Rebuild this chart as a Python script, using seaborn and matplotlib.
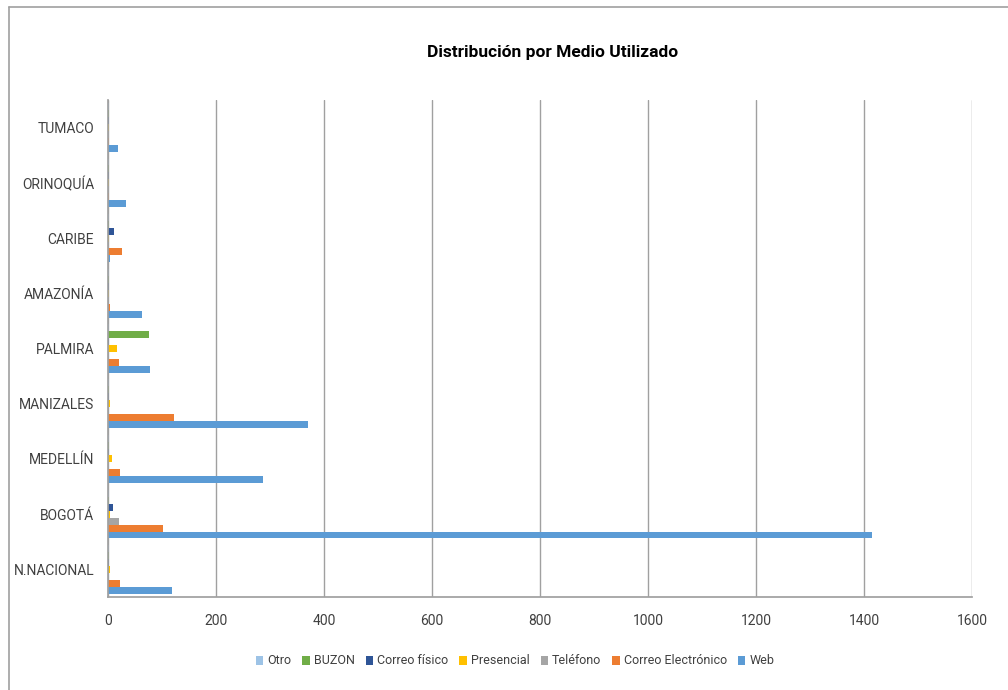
import matplotlib
matplotlib.use("Agg")
import matplotlib.pyplot as plt
import seaborn as sns
import pandas as pd
import numpy as np
from matplotlib.lines import Line2D
from matplotlib.patches import Patch

categories = ["TUMACO", "ORINOQUÍA", "CARIBE", "AMAZONÍA", "PALMIRA",
              "MANIZALES", "MEDELLÍN", "BOGOTÁ", "N.NACIONAL"]
series = ["Otro", "BUZON", "Correo físico", "Presencial", "Teléfono",
          "Correo Electrónico", "Web"]

otro = [1, 1, 1, 1, 1, 1, 1, 1, 1]
buzon = [1, 1, 1, 1, 75, 1, 1, 1, 1]
correo_fisico = [1, 1, 12, 1, 2, 1, 2, 9, 2]
presencial = [1, 1, 1, 1, 16, 3, 8, 3, 3]
telefono = [1, 1, 1, 1, 2, 2, 2, 20, 2]
correo_electronico = [2, 2, 26, 3, 20, 122, 23, 101, 22]
web = [19, 33, 3, 63, 78, 370, 287, 1415, 118]

colors = ["#9DC3E6", "#70AD47", "#2F5597", "#FFC000", "#A5A5A5",
          "#ED7D31", "#5B9BD5"]

vals = [otro, buzon, correo_fisico, presencial, telefono, correo_electronico, web]
rows = []
for s, v in zip(series, vals):
    for c, x in zip(categories, v):
        rows.append({"Región": c, "Medio": s, "Valor": x})
df = pd.DataFrame(rows)

sns.set_theme(style="white")
plt.rcParams['font.family'] = ['Roboto', 'DejaVu Sans']

W, H = 1008, 690
fig = plt.figure(figsize=(W / 100, H / 100), dpi=100)
ax = fig.add_axes([108 / W, 1 - 597 / H, (972 - 108) / W, (597 - 100) / H])

sns.barplot(data=df, y="Región", x="Valor", hue="Medio", order=categories,
            hue_order=series, palette=colors, orient="h", ax=ax, width=0.88,
            saturation=1, edgecolor="none", linewidth=0, legend=False)

ax.set_xlim(0, 1600)
ax.set_ylim(len(categories) - 0.5, -0.5)
ax.set_xticks(np.arange(0, 1601, 200))
ax.tick_params(axis="x", labelsize=10, colors="#404040", length=0, pad=12)
ax.tick_params(axis="y", labelsize=10, colors="#404040", length=0, pad=10)
ax.set_xlabel("")
ax.set_ylabel("")
ax.grid(axis="x", color="#A0A0A0", linewidth=1.0)
ax.set_axisbelow(True)
for sp in ["top", "right"]:
    ax.spines[sp].set_visible(False)
ax.spines["left"].set_color("#A0A0A0")
ax.spines["bottom"].set_color("#A0A0A0")
ax.set_yticks(np.arange(-0.5, len(categories), 1), minor=True)
ax.tick_params(axis="y", which="minor", length=4, color="#A0A0A0", width=1)

fig.text(553 / W, 1 - 53 / H, "Distribución por Medio Utilizado",
         ha="center", va="center", fontsize=12.5, fontweight="bold", color="#000000")

handles = [Patch(facecolor=c, edgecolor="none", label=s) for s, c in zip(series, colors)]
fig.legend(handles=handles, loc="center", bbox_to_anchor=(515 / W, 1 - 661 / H),
           ncol=7, frameon=False, fontsize=9, handlelength=0.6, handleheight=0.7,
           handletextpad=0.3, columnspacing=0.9, labelcolor="#404040")

# chart border (top and left visible)
fig.add_artist(Line2D([9 / W, 9 / W], [0, 1 - 7 / H], transform=fig.transFigure,
                      color="#A0A0A0", linewidth=1.2))
fig.add_artist(Line2D([9 / W, 1], [1 - 7 / H, 1 - 7 / H], transform=fig.transFigure,
                      color="#A0A0A0", linewidth=1.2))

fig.savefig("out.png", dpi=100)
